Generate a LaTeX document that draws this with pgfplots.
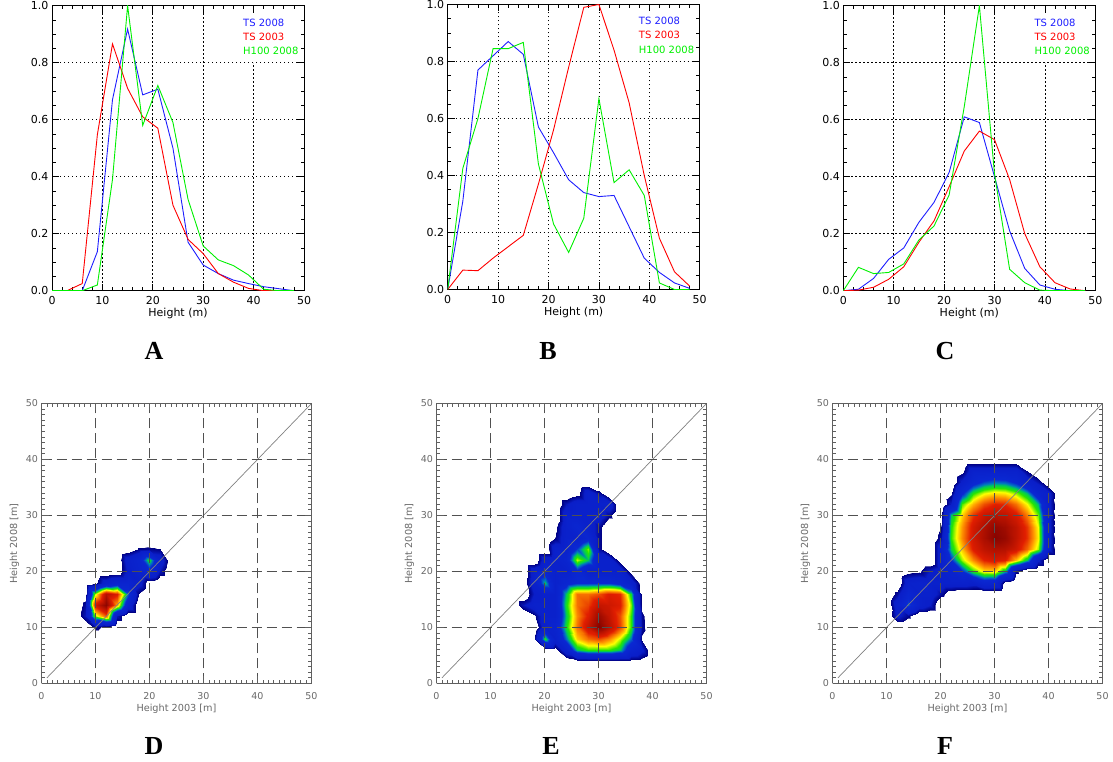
\documentclass[border=0pt]{standalone}
\usepackage{pgfplots}
\pgfplotsset{compat=1.18}
\usepackage{fontspec}
\setmainfont{DejaVu Sans}
\newfontfamily\serifletters{Liberation Serif}
\definecolor{lnblue}{RGB}{30,30,255}
\definecolor{lnred}{RGB}{255,0,0}
\definecolor{lngreen}{RGB}{0,240,0}
\definecolor{framegray}{RGB}{95,95,95}
\definecolor{gridgray}{RGB}{80,80,80}
\definecolor{labgray}{RGB}{105,105,105}
\tikzset{topgrid/.style={black, line width=0.8pt, dash pattern=on 1.3pt off 2.7pt}}
\pgfplotsset{
  colormap={idl}{
    rgb255(0pt)=(255,255,255)
    rgb255(19pt)=(255,255,255)
    rgb255(20pt)=(0,0,130)
    rgb255(36pt)=(10,30,200)
    rgb255(80pt)=(10,40,210)
    rgb255(92pt)=(0,120,190)
    rgb255(100pt)=(0,200,90)
    rgb255(110pt)=(40,230,0)
    rgb255(124pt)=(255,255,0)
    rgb255(138pt)=(255,150,0)
    rgb255(158pt)=(225,30,0)
    rgb255(200pt)=(120,0,0)
  },
  topplot/.style={
    scale only axis, width=252pt, height=285pt,
    xmin=0, xmax=50, ymin=0, ymax=1,
    xtick={0,10,20,30,40,50}, ytick={0,0.2,0.4,0.6,0.8,1.0},
    minor x tick num=4, minor y tick num=3,
    tick align=inside, major tick length=7pt, minor tick length=3.5pt,
    ymajorgrids,
    major grid style={topgrid},
    axis line style={black, line width=0.9pt},
    every tick/.style={black, line width=0.7pt},
    /pgf/number format/assume math mode=true,
    tick label style={font=\fontsize{11}{13}\selectfont},
    yticklabel style={/pgf/number format/.cd, fixed, fixed zerofill, precision=1},
    xticklabel style={anchor=center, yshift=-10pt},
    xlabel={Height (m)},
    xlabel style={at={(axis description cs:0.5,-0.08)}, anchor=center, font=\fontsize{11}{13}\selectfont},
    every axis plot/.append style={line width=0.9pt, mark=none},
  },
  botplot/.style={
    scale only axis, width=270pt, height=280pt,
    view={0}{90},
    xmin=0, xmax=50, ymin=0, ymax=50,
    xtick={0,10,20,30,40,50}, ytick={0,10,20,30,40,50}, ztick=\empty,
    minor x tick num=9, minor y tick num=9,
    tick align=inside, major tick length=7pt, minor tick length=3.8pt,
    xmajorgrids, ymajorgrids,
    major grid style={gridgray, line width=1.3pt, dash pattern=on 10pt off 5pt},
    axis line style={framegray, line width=1pt},
    every tick/.style={framegray, line width=0.8pt},
    /pgf/number format/assume math mode=true,
    tick label style={font=\fontsize{9.5}{11}\selectfont, text=labgray},
    xticklabel style={anchor=center, yshift=-12.5pt},
    yticklabel style={anchor=east},
    xlabel={Height 2003 [m]}, ylabel={Height 2008 [m]},
    xlabel style={at={(axis description cs:0.5,-0.0893)}, anchor=center, font=\fontsize{9.7}{11}\selectfont, text=labgray},
    ylabel style={at={(axis description cs:-0.1,0.5)}, anchor=center, font=\fontsize{9.7}{11}\selectfont, text=labgray},
    axis on top,
    hide z axis,
    colormap name=idl, point meta min=0, point meta max=10,
  },
}
% vertical grid lines of the top panels; the one at 40 stops under the legend
\newcommand{\xgrid}{%
  \draw[topgrid] (axis cs:10,0) -- (axis cs:10,1);
  \draw[topgrid] (axis cs:20,0) -- (axis cs:20,1);
  \draw[topgrid] (axis cs:30,0) -- (axis cs:30,1);
  \draw[topgrid] (axis cs:40,0) -- (axis cs:40,0.8);
}
\newcommand{\legtext}{%
  \node[anchor=west, inner sep=0pt, text=lnblue, font=\fontsize{10}{12}\selectfont] at (rel axis cs:0.758,0.941) {TS 2008};
  \node[anchor=west, inner sep=0pt, text=lnred, font=\fontsize{10}{12}\selectfont] at (rel axis cs:0.758,0.892) {TS 2003};
  \node[anchor=west, inner sep=0pt, text=lngreen, font=\fontsize{10}{12}\selectfont] at (rel axis cs:0.758,0.842) {H100 2008};
}
\begin{document}
\begin{tikzpicture}
\path[use as bounding box] (0pt,0pt) rectangle (1113pt,762pt);

% ---------------- A ----------------
\begin{axis}[topplot, at={(52pt,471.3pt)}, anchor=south west]
\xgrid
\addplot[lnblue] coordinates {(0,0)(3,0)(6,0)(9,0.137)(12,0.67)(15,0.918)(18,0.687)(21,0.707)(24,0.50)(27,0.17)(30,0.09)(33,0.06)(36,0.037)(39,0.025)(42,0.014)(45,0.007)(48,0)};
\addplot[lnred] coordinates {(0,0)(3,0)(6,0.025)(9,0.547)(12,0.866)(15,0.71)(18,0.61)(21,0.57)(24,0.30)(27,0.18)(30,0.13)(33,0.06)(36,0.03)(39,0.008)(42,0)(45,0)(48,0)};
\addplot[lngreen] coordinates {(0,0)(3,0)(6,0)(9,0.02)(12,0.39)(15,1.0)(18,0.58)(21,0.72)(24,0.59)(27,0.32)(30,0.157)(33,0.108)(36,0.088)(39,0.055)(42,0.005)(45,0)(48,0)};
\legtext
\end{axis}

% ---------------- B ----------------
\begin{axis}[topplot, at={(447.7pt,472.5pt)}, anchor=south west]
\xgrid
\addplot[lnblue] coordinates {(0,0)(3,0.31)(6,0.77)(9,0.82)(12,0.87)(15,0.825)(18,0.57)(21,0.48)(24,0.385)(27,0.34)(30,0.326)(33,0.33)(36,0.22)(39,0.11)(42,0.06)(45,0.023)(48,0.004)};
\addplot[lnred] coordinates {(0,0)(3,0.068)(6,0.066)(9,0.11)(12,0.15)(15,0.19)(18,0.37)(21,0.56)(24,0.78)(27,0.99)(30,1.0)(33,0.84)(36,0.655)(39,0.40)(42,0.18)(45,0.062)(48,0.012)};
\addplot[lngreen] coordinates {(0,0)(3,0.425)(6,0.6)(9,0.845)(12,0.845)(15,0.867)(18,0.44)(21,0.23)(24,0.13)(27,0.25)(30,0.67)(33,0.375)(36,0.42)(39,0.33)(42,0.023)(45,0)(48,0)};
\legtext
\end{axis}

% ---------------- C ----------------
\begin{axis}[topplot, at={(843.3pt,471.3pt)}, anchor=south west]
\xgrid
\addplot[lnblue] coordinates {(0,0)(3,0.005)(6,0.043)(9,0.11)(12,0.15)(15,0.24)(18,0.31)(21,0.415)(24,0.61)(27,0.59)(30,0.40)(33,0.21)(36,0.078)(39,0.02)(42,0.005)(45,0)(48,0)};
\addplot[lnred] coordinates {(0,0)(3,0.002)(6,0.012)(9,0.04)(12,0.084)(15,0.17)(18,0.245)(21,0.365)(24,0.49)(27,0.56)(30,0.53)(33,0.39)(36,0.2)(39,0.084)(42,0.028)(45,0.006)(48,0)};
\addplot[lngreen] coordinates {(0,0)(3,0.082)(6,0.06)(9,0.064)(12,0.094)(15,0.178)(18,0.227)(21,0.336)(24,0.646)(27,1.0)(30,0.41)(33,0.075)(36,0.028)(39,0.002)(42,0)(45,0)(48,0)};
\legtext
\end{axis}

% ---------------- D ----------------
\begin{axis}[botplot, at={(41.5pt,78.5pt)}, anchor=south west]
\addplot3[surf, shader=interp, mesh/cols=10, point meta=z] coordinates {
(6,8,0)(8,8,0)(10,8,0)(12,8,0)(14,8,0)(16,8,0)(18,8,0)(20,8,0)(22,8,0)(24,8,0)
(6,10,0)(8,10,0)(10,10,1.3)(12,10,0.7)(14,10,0)(16,10,0)(18,10,0)(20,10,0)(22,10,0)(24,10,0)
(6,12,0)(8,12,1.6)(10,12,5.8)(12,12,7.4)(14,12,1.6)(16,12,0)(18,12,0)(20,12,0)(22,12,0)(24,12,0)
(6,14,0)(8,14,1.3)(10,14,8.2)(12,14,9.6)(14,14,6.8)(16,14,2.8)(18,14,0)(20,14,0)(22,14,0)(24,14,0)
(6,16,0)(8,16,0.4)(10,16,6.0)(12,16,8.8)(14,16,8.0)(16,16,4.4)(18,16,0.9)(20,16,0)(22,16,0)(24,16,0)
(6,18,0)(8,18,0)(10,18,0.7)(12,18,2.4)(14,18,3.2)(16,18,3.2)(18,18,2.2)(20,18,0.4)(22,18,0)(24,18,0)
(6,20,0)(8,20,0)(10,20,0)(12,20,0)(14,20,0.2)(16,20,2.0)(18,20,3.0)(20,20,3.6)(22,20,1.6)(24,20,0)
(6,22,0)(8,22,0)(10,22,0)(12,22,0)(14,22,0.2)(16,22,2.4)(18,22,3.2)(20,22,5.4)(22,22,2.5)(24,22,0.2)
(6,24,0)(8,24,0)(10,24,0)(12,24,0)(14,24,0)(16,24,0.3)(18,24,1.1)(20,24,1.2)(22,24,1.0)(24,24,0)
(6,26,0)(8,26,0)(10,26,0)(12,26,0)(14,26,0)(16,26,0)(18,26,0)(20,26,0)(22,26,0)(24,26,0)
};
\addplot3[gray, line width=0.7pt] coordinates {(1,1,0)(50,50,0)};
\end{axis}

% ---------------- E ----------------
\begin{axis}[botplot, at={(436.5pt,78.5pt)}, anchor=south west]
\addplot3[surf, shader=interp, mesh/cols=14, point meta=z] coordinates {
(14,2,0)(16,2,0)(18,2,0)(20,2,0)(22,2,0)(24,2,0)(26,2,0)(28,2,0)(30,2,0)(32,2,0)(34,2,0)(36,2,0)(38,2,0)(40,2,0)
(14,4,0)(16,4,0)(18,4,0)(20,4,0)(22,4,0)(24,4,0.3)(26,4,0.7)(28,4,0.7)(30,4,0.7)(32,4,0.7)(34,4,0.7)(36,4,0.7)(38,4,0.6)(40,4,0)
(14,6,0)(16,6,0)(18,6,0)(20,6,0.3)(22,6,0.5)(24,6,2.5)(26,6,5.0)(28,6,5.5)(30,6,5.5)(32,6,5.5)(34,6,5.0)(36,6,3.0)(38,6,2.0)(40,6,0)
(14,8,0)(16,8,0)(18,8,0.9)(20,8,5.4)(22,8,2.5)(24,8,4.5)(26,8,6.5)(28,8,7.2)(30,8,7.5)(32,8,7.0)(34,8,6.0)(36,8,4.5)(38,8,0.8)(40,8,0)
(14,10,0)(16,10,0)(18,10,0)(20,10,2.5)(22,10,3.0)(24,10,5.3)(26,10,7.2)(28,10,8.5)(30,10,9.8)(32,10,8.8)(34,10,7.6)(36,10,5.5)(38,10,1.3)(40,10,0)
(14,12,0)(16,12,0)(18,12,0.8)(20,12,2.5)(22,12,2.5)(24,12,5.0)(26,12,7.0)(28,12,8.0)(30,12,9.3)(32,12,8.5)(34,12,7.5)(36,12,5.5)(38,12,1.2)(40,12,0)
(14,14,0)(16,14,1.6)(18,14,2.5)(20,14,2.5)(22,14,2.5)(24,14,5.3)(26,14,7.2)(28,14,7.6)(30,14,8.5)(32,14,8.3)(34,14,8.0)(36,14,5.8)(38,14,0.6)(40,14,0)
(14,16,0)(16,16,0)(18,16,1.8)(20,16,2.5)(22,16,2.5)(24,16,5.0)(26,16,7.2)(28,16,7.2)(30,16,7.5)(32,16,8.0)(34,16,7.8)(36,16,5.2)(38,16,0.6)(40,16,0)
(14,18,0)(16,18,0.3)(18,18,2.5)(20,18,5.0)(22,18,2.5)(24,18,3.5)(26,18,4.0)(28,18,4.0)(30,18,4.0)(32,18,4.0)(34,18,3.5)(36,18,2.5)(38,18,0.4)(40,18,0)
(14,20,0)(16,20,0)(18,20,2.5)(20,20,3.5)(22,20,2.5)(24,20,2.5)(26,20,3.8)(28,20,2.5)(30,20,2.5)(32,20,2.5)(34,20,2.5)(36,20,0.5)(38,20,0)(40,20,0)
(14,22,0)(16,22,0)(18,22,0)(20,22,2.5)(22,22,2.5)(24,22,3.2)(26,22,6.0)(28,22,5.0)(30,22,2.5)(32,22,2.5)(34,22,0.5)(36,22,0)(38,22,0)(40,22,0)
(14,24,0)(16,24,0)(18,24,0)(20,24,0)(22,24,2.5)(24,24,2.5)(26,24,4.2)(28,24,5.8)(30,24,1.3)(32,24,0)(34,24,0)(36,24,0)(38,24,0)(40,24,0)
(14,26,0)(16,26,0)(18,26,0)(20,26,0)(22,26,1.0)(24,26,2.5)(26,26,2.5)(28,26,3.5)(30,26,1.3)(32,26,0)(34,26,0)(36,26,0)(38,26,0)(40,26,0)
(14,28,0)(16,28,0)(18,28,0)(20,28,0)(22,28,0.7)(24,28,2.5)(26,28,3.5)(28,28,2.5)(30,28,1.3)(32,28,0)(34,28,0)(36,28,0)(38,28,0)(40,28,0)
(14,30,0)(16,30,0)(18,30,0)(20,30,0)(22,30,0)(24,30,2.5)(26,30,2.5)(28,30,2.5)(30,30,2.5)(32,30,1.3)(34,30,0)(36,30,0)(38,30,0)(40,30,0)
(14,32,0)(16,32,0)(18,32,0)(20,32,0)(22,32,0)(24,32,1.6)(26,32,2.5)(28,32,2.5)(30,32,2.5)(32,32,2.5)(34,32,0)(36,32,0)(38,32,0)(40,32,0)
(14,34,0)(16,34,0)(18,34,0)(20,34,0)(22,34,0)(24,34,0)(26,34,0.5)(28,34,2.5)(30,34,1.3)(32,34,0)(34,34,0)(36,34,0)(38,34,0)(40,34,0)
(14,36,0)(16,36,0)(18,36,0)(20,36,0)(22,36,0)(24,36,0)(26,36,0)(28,36,0)(30,36,0)(32,36,0)(34,36,0)(36,36,0)(38,36,0)(40,36,0)
};
\addplot3[gray, line width=0.7pt] coordinates {(1,1,0)(50,50,0)};
\end{axis}

% ---------------- F ----------------
\begin{axis}[botplot, at={(832.5pt,78.5pt)}, anchor=south west]
\addplot3[surf, shader=interp, mesh/cols=17, point meta=z] coordinates {
(10,10,0)(12,10,0)(14,10,0)(16,10,0)(18,10,0)(20,10,0)(22,10,0)(24,10,0)(26,10,0)(28,10,0)(30,10,0)(32,10,0)(34,10,0)(36,10,0)(38,10,0)(40,10,0)(42,10,0)
(10,12,0)(12,12,2.0)(14,12,1.2)(16,12,0)(18,12,0)(20,12,0)(22,12,0)(24,12,0)(26,12,0)(28,12,0)(30,12,0)(32,12,0)(34,12,0)(36,12,0)(38,12,0)(40,12,0)(42,12,0)
(10,14,0)(12,14,2.5)(14,14,4.4)(16,14,2.5)(18,14,1.8)(20,14,0)(22,14,0)(24,14,0)(26,14,0)(28,14,0)(30,14,0)(32,14,0)(34,14,0)(36,14,0)(38,14,0)(40,14,0)(42,14,0)
(10,16,0)(12,16,1.3)(14,16,3.5)(16,16,2.5)(18,16,2.5)(20,16,1.3)(22,16,0.3)(24,16,0)(26,16,0)(28,16,0)(30,16,0)(32,16,0)(34,16,0)(36,16,0)(38,16,0)(40,16,0)(42,16,0)
(10,18,0)(12,18,0)(14,18,2.5)(16,18,2.8)(18,18,2.5)(20,18,2.5)(22,18,2.5)(24,18,2.5)(26,18,2.2)(28,18,3.2)(30,18,3.0)(32,18,0.5)(34,18,0)(36,18,0)(38,18,0)(40,18,0)(42,18,0)
(10,20,0)(12,20,0)(14,20,0.6)(16,20,0.8)(18,20,1.8)(20,20,2.5)(22,20,3.0)(24,20,4.0)(26,20,5.5)(28,20,6.4)(30,20,6.5)(32,20,5.0)(34,20,1.2)(36,20,0)(38,20,0)(40,20,0)(42,20,0)
(10,22,0)(12,22,0)(14,22,0)(16,22,0)(18,22,0)(20,22,2.5)(22,22,4.0)(24,22,5.9)(26,22,7.0)(28,22,7.9)(30,22,8.2)(32,22,8.0)(34,22,6.6)(36,22,5.0)(38,22,2.0)(40,22,0)(42,22,0)
(10,24,0)(12,24,0)(14,24,0)(16,24,0)(18,24,0)(20,24,2.5)(22,24,5.1)(24,24,6.6)(26,24,8.0)(28,24,8.6)(30,24,8.9)(32,24,8.8)(34,24,8.3)(36,24,7.3)(38,24,5.9)(40,24,2.0)(42,24,0)
(10,26,0)(12,26,0)(14,26,0)(16,26,0)(18,26,0)(20,26,1.4)(22,26,5.5)(24,26,7.0)(26,26,8.25)(28,26,9.0)(30,26,9.7)(32,26,9.4)(34,26,8.6)(36,26,7.75)(38,26,6.3)(40,26,2.0)(42,26,0)
(10,28,0)(12,28,0)(14,28,0)(16,28,0)(18,28,0)(20,28,1.0)(22,28,5.4)(24,28,6.9)(26,28,8.2)(28,28,8.9)(30,28,9.5)(32,28,9.2)(34,28,8.6)(36,28,7.7)(38,28,6.2)(40,28,2.0)(42,28,0)
(10,30,0)(12,30,0)(14,30,0)(16,30,0)(18,30,0)(20,30,0.8)(22,30,5.0)(24,30,6.5)(26,30,7.7)(28,30,8.4)(30,30,8.7)(32,30,8.6)(34,30,8.1)(36,30,7.1)(38,30,5.7)(40,30,2.0)(42,30,0)
(10,32,0)(12,32,0)(14,32,0)(16,32,0)(18,32,0)(20,32,0)(22,32,1.8)(24,32,5.6)(26,32,6.7)(28,32,7.5)(30,32,7.9)(32,32,7.8)(34,32,7.2)(36,32,6.2)(38,32,4.9)(40,32,2.0)(42,32,0)
(10,34,0)(12,34,0)(14,34,0)(16,34,0)(18,34,0)(20,34,0)(22,34,0.8)(24,34,3.8)(26,34,5.4)(28,34,6.1)(30,34,6.4)(32,34,6.3)(34,34,5.8)(36,34,4.9)(38,34,3.0)(40,34,2.0)(42,34,0)
(10,36,0)(12,36,0)(14,36,0)(16,36,0)(18,36,0)(20,36,0)(22,36,0)(24,36,2.0)(26,36,3.5)(28,36,4.2)(30,36,4.5)(32,36,4.4)(34,36,3.8)(36,36,2.5)(38,36,1.5)(40,36,0)(42,36,0)
(10,38,0)(12,38,0)(14,38,0)(16,38,0)(18,38,0)(20,38,0)(22,38,0)(24,38,0.7)(26,38,2.5)(28,38,2.5)(30,38,2.5)(32,38,2.5)(34,38,2.5)(36,38,1.0)(38,38,0)(40,38,0)(42,38,0)
(10,40,0)(12,40,0)(14,40,0)(16,40,0)(18,40,0)(20,40,0)(22,40,0)(24,40,0)(26,40,0)(28,40,0)(30,40,0)(32,40,0)(34,40,0)(36,40,0)(38,40,0)(40,40,0)(42,40,0)
};
\addplot3[gray, line width=0.7pt] coordinates {(1,1,0)(50,50,0)};
\end{axis}

% panel letters
\node[font=\serifletters\bfseries\fontsize{26}{26}\selectfont] at (154pt,411pt) {A};
\node[font=\serifletters\bfseries\fontsize{26}{26}\selectfont] at (548pt,411pt) {B};
\node[font=\serifletters\bfseries\fontsize{26}{26}\selectfont] at (945pt,411pt) {C};
\node[font=\serifletters\bfseries\fontsize{26}{26}\selectfont] at (154pt,16pt) {D};
\node[font=\serifletters\bfseries\fontsize{26}{26}\selectfont] at (551pt,16pt) {E};
\node[font=\serifletters\bfseries\fontsize{26}{26}\selectfont] at (945pt,16pt) {F};
\end{tikzpicture}
\end{document}
